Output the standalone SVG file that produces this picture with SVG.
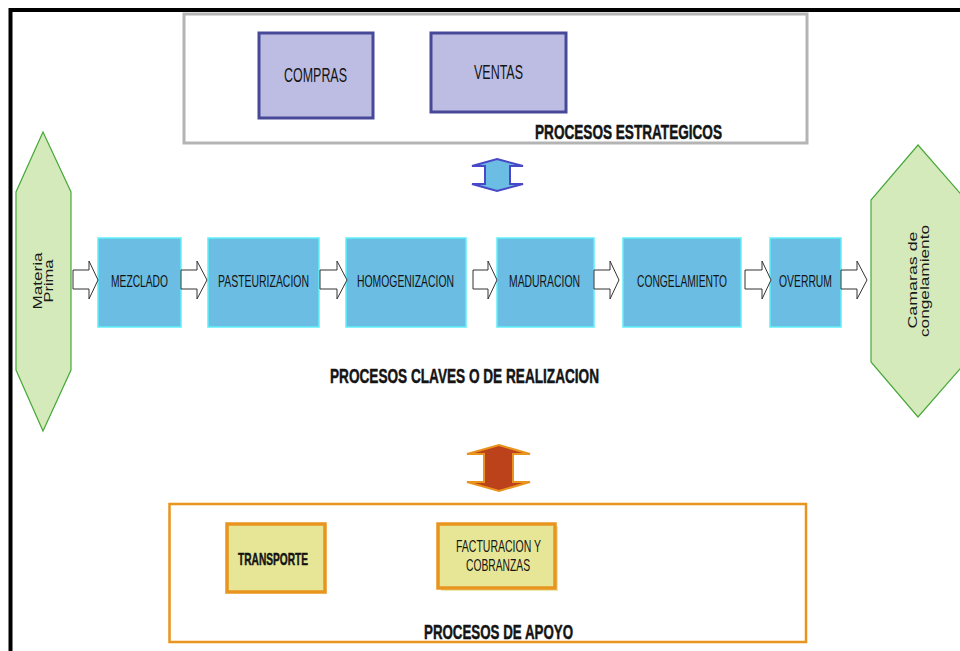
<svg xmlns="http://www.w3.org/2000/svg" width="960" height="651" viewBox="0 0 960 651">
<style>
  .t { font-family: "Liberation Sans Narrow", "Liberation Sans", Arial, sans-serif; fill: #141414; }
  .b { font-weight: bold; stroke: #141414; stroke-width: 0.5; }
  .r { font-family: "Liberation Sans", Arial, sans-serif; fill: #1a1a1a; font-size: 13px; }
  .strat { fill: #bdbde3; stroke: #484898; stroke-width: 3; }
  .proc { fill: #6bbde3; stroke: #5ef0f8; stroke-width: 1.5; }
  .sup { fill: #e6e696; stroke: #e8941e; stroke-width: 3.5; }
  .hex { fill: #d5eabb; stroke: #48a83a; stroke-width: 1.2; }
  .barrow { fill: #ffffff; stroke: #333333; stroke-width: 1; }
</style>
<rect width="960" height="651" fill="#ffffff"/>
<rect x="10.5" y="10" width="980" height="700" fill="none" stroke="#000000" stroke-width="4"/>

<g id="procesos-estrategicos">
  <rect x="184" y="14" width="623" height="129" fill="#ffffff" stroke="#b4b4b4" stroke-width="3"/>
  <text class="t b" x="535" y="139" font-size="20" textLength="187" lengthAdjust="spacingAndGlyphs">PROCESOS ESTRATEGICOS</text>
</g>
<g id="compras">
  <rect class="strat" x="259" y="33" width="114" height="85"/>
  <text class="t" x="284" y="82" font-size="21" textLength="63" lengthAdjust="spacingAndGlyphs">COMPRAS</text>
</g>
<g id="ventas">
  <rect class="strat" x="431" y="33" width="135" height="79"/>
  <text class="t" x="474" y="79" font-size="20" textLength="49" lengthAdjust="spacingAndGlyphs">VENTAS</text>
</g>

<g id="materia-prima">
  <polygon class="hex" points="43,132 71,192 71,370 43,431 16,370 16,192"/>
  <text class="r" transform="translate(42,281) rotate(-90)" x="0" y="0" text-anchor="middle" textLength="57" lengthAdjust="spacingAndGlyphs">Materia</text>
  <text class="r" transform="translate(53,281) rotate(-90)" x="0" y="0" text-anchor="middle" textLength="43" lengthAdjust="spacingAndGlyphs">Prima</text>
</g>
<g id="camaras">
  <polygon class="hex" points="918,145 966,200 966,362 918,417 871,362 871,200"/>
  <text class="r" transform="translate(917,280) rotate(-90)" x="0" y="0" text-anchor="middle" textLength="97" lengthAdjust="spacingAndGlyphs">Camaras de</text>
  <text class="r" transform="translate(929,281) rotate(-90)" x="0" y="0" text-anchor="middle" textLength="112" lengthAdjust="spacingAndGlyphs">congelamiento</text>
</g>

<g id="mezclado">
  <rect class="proc" x="98" y="238" width="83" height="89"/>
  <text class="t" x="111" y="287" font-size="16.5" textLength="57" lengthAdjust="spacingAndGlyphs">MEZCLADO</text>
</g>
<g id="pasteurizacion">
  <rect class="proc" x="208" y="238" width="111" height="89"/>
  <text class="t" x="218" y="287" font-size="16.5" textLength="91" lengthAdjust="spacingAndGlyphs">PASTEURIZACION</text>
</g>
<g id="homogenizacion">
  <rect class="proc" x="346" y="238" width="120" height="89"/>
  <text class="t" x="357" y="287" font-size="16.5" textLength="97" lengthAdjust="spacingAndGlyphs">HOMOGENIZACION</text>
</g>
<g id="maduracion">
  <rect class="proc" x="497" y="238" width="97" height="89"/>
  <text class="t" x="509" y="287" font-size="16.5" textLength="71" lengthAdjust="spacingAndGlyphs">MADURACION</text>
</g>
<g id="congelamiento">
  <rect class="proc" x="623" y="238" width="118" height="89"/>
  <text class="t" x="637" y="287" font-size="16.5" textLength="90" lengthAdjust="spacingAndGlyphs">CONGELAMIENTO</text>
</g>
<g id="overrum">
  <rect class="proc" x="770" y="238" width="71" height="89"/>
  <text class="t" x="779" y="287" font-size="16.5" textLength="53" lengthAdjust="spacingAndGlyphs">OVERRUM</text>
</g>

<g id="procesos-claves">
  <text class="t b" x="330" y="383" font-size="21" textLength="269" lengthAdjust="spacingAndGlyphs">PROCESOS CLAVES O DE REALIZACION</text>
</g>

<g id="procesos-apoyo">
  <rect x="169.5" y="504" width="636.5" height="138" fill="#ffffff" stroke="#e8941e" stroke-width="2.5"/>
  <text class="t b" x="424" y="639" font-size="21" textLength="149" lengthAdjust="spacingAndGlyphs">PROCESOS DE APOYO</text>
</g>
<g id="transporte">
  <rect class="sup" x="227" y="524" width="98" height="68"/>
  <text class="t b" x="238" y="565" font-size="17" textLength="70" lengthAdjust="spacingAndGlyphs">TRANSPORTE</text>
</g>
<g id="facturacion">
  <rect x="441" y="526" width="117" height="65" fill="#eaeaa8"/>
  <rect class="sup" x="438" y="524" width="117" height="64"/>
  <text class="t" x="456" y="552" font-size="16.5" textLength="85" lengthAdjust="spacingAndGlyphs">FACTURACION Y</text>
  <text class="t" x="466" y="571" font-size="16.5" textLength="64" lengthAdjust="spacingAndGlyphs">COBRANZAS</text>
</g>

<g id="connectors">
  <path class="barrow" d="M73,270 H89 V261 L98,280 L89,299 V289 H73 Z"/>
  <path class="barrow" d="M181,270 H197 V261 L207,280 L197,299 V289 H181 Z"/>
  <path class="barrow" d="M320,270 H337 V261 L347,280 L337,299 V289 H320 Z"/>
  <path class="barrow" d="M473,270 H488 V261 L497,280 L488,299 V289 H473 Z"/>
  <path class="barrow" d="M594,270 H610 V261 L619,280 L610,299 V289 H594 Z"/>
  <path class="barrow" d="M745,270 H762 V261 L771,280 L762,299 V289 H745 Z"/>
  <path class="barrow" d="M841,270 H857 V261 L867,280 L857,299 V289 H841 Z"/>
  <polygon points="497,159 523,166 510,166 510,184 523,184 497,191 472,184 485,184 485,166 472,166" fill="#6bbde3" stroke="#4848c8" stroke-width="2"/>
  <polygon points="499,445 530,454 513,454 513,482 530,482 499,491 467,482 484,482 484,454 467,454" fill="#bb421a" stroke="#ea9420" stroke-width="2"/>
</g>
</svg>
